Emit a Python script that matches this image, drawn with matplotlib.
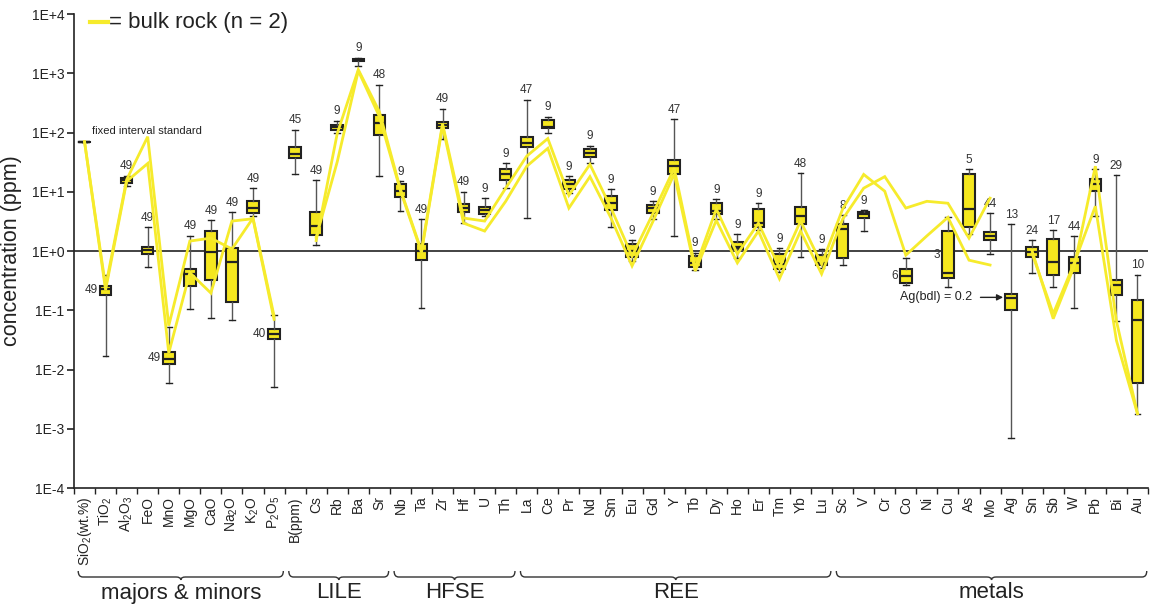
import numpy as np
import matplotlib
matplotlib.use("Agg")
import matplotlib.pyplot as plt
import matplotlib.transforms as mtransforms
from matplotlib.path import Path
from matplotlib.patches import PathPatch
from matplotlib.ticker import FuncFormatter, FixedLocator

plt.rcParams['font.family'] = ['Liberation Sans', 'DejaVu Sans']
plt.rcParams['mathtext.fontset'] = 'custom'
plt.rcParams['mathtext.rm'] = 'Liberation Sans'
plt.rcParams['mathtext.it'] = 'Liberation Sans:italic'
plt.rcParams['mathtext.bf'] = 'Liberation Sans:bold'
plt.rcParams['mathtext.default'] = 'regular'

# ---------------------------------------------------------------- data
elements = ['SiO$_2$(wt.%)', 'TiO$_2$', 'Al$_2$O$_3$', 'FeO', 'MnO', 'MgO', 'CaO',
            'Na$_2$O', 'K$_2$O', 'P$_2$O$_5$',
            'B(ppm)', 'Cs', 'Rb', 'Ba', 'Sr',
            'Nb', 'Ta', 'Zr', 'Hf', 'U', 'Th',
            'La', 'Ce', 'Pr', 'Nd', 'Sm', 'Eu', 'Gd', 'Y', 'Tb', 'Dy', 'Ho', 'Er',
            'Tm', 'Yb', 'Lu',
            'Sc', 'V', 'Cr', 'Co', 'Ni', 'Cu', 'As', 'Mo', 'Ag', 'Sn', 'Sb', 'W',
            'Pb', 'Bi', 'Au']

nan = np.nan
# box statistics (ppm; majors in wt.%), nan = no analyses
q1 = [nan, 0.18, 13.9, 0.89, 0.0126, 0.26, 0.33, 0.139, 4.35, 0.033,
      36.5, 1.86, 112, 1590, 89,
      8.1, 0.71, 117, 4.5, 4.2, 15.6,
      56, 117, 11, 38, 4.9, 0.79, 4.35, 19.6, 0.54, 4.2, 1.08, 2.5, 0.50, 2.84, 0.58,
      0.76, 3.6, nan, 0.29, nan, 0.35, 2.5, 1.53, 0.10, 0.79, 0.40, 0.43, 10.2, 0.18, 0.006]
median = [nan, 0.23, 15.6, 1.03, 0.0153, 0.41, 0.96, 0.65, 5.3, 0.040,
          44, 2.63, 126, 1690, 142,
          10.2, 1.0, 136, 5.3, 4.9, 19.7,
          66, 126, 13.4, 44.5, 6.4, 1.0, 5.3, 27, 0.63, 4.7, 1.17, 2.95, 0.60, 3.9, 0.63,
          2.34, 4.2, nan, 0.38, nan, 0.43, 5.1, 1.79, 0.16, 0.96, 0.65, 0.63, 13.4, 0.27, 0.069]
q3 = [nan, 0.26, 17, 1.17, 0.020, 0.50, 2.17, 1.12, 6.9, 0.049,
      58, 4.5, 135, 1740, 200,
      13.4, 1.31, 152, 6.2, 5.5, 24,
      83, 160, 15.6, 52, 8.4, 1.31, 5.9, 35, 0.82, 6.4, 1.42, 5.1, 0.89, 5.5, 0.86,
      2.84, 4.5, nan, 0.50, nan, 2.17, 19.6, 2.1, 0.19, 1.17, 1.59, 0.79, 16.2, 0.33, 0.15]
whisker_low = [nan, 0.017, 12.5, 0.54, 0.006, 0.106, 0.075, 0.069, 3.9, 0.005,
               19.6, 1.26, 100, 1340, 18.2,
               4.7, 0.11, 79, 2.95, 3.9, 11.5,
               3.6, 100, 9.4, 31, 2.5, 0.68, 3.45, 1.8, 0.48, 3.45, 0.76, 2.3, 0.44, 0.79, 0.52,
               0.58, 2.17, nan, 0.27, nan, 0.25, 1.93, 0.89, 0.0007, 0.43, 0.25, 0.11, 3.9, 0.066, 0.0018]
whisker_high = [nan, 0.40, 18.5, 2.5, 0.053, 1.8, 3.3, 4.5, 11.5, 0.084,
                112, 15.6, 159, 1820, 640,
                15, 3.45, 253, 10, 7.8, 30,
                357, 186, 18.2, 60, 11, 1.53, 6.9, 166, 0.93, 7.5, 1.93, 6.4, 1.12, 20.4, 1.08,
                4.0, 4.9, nan, 0.76, nan, 3.7, 24, 4.35, 2.84, 1.53, 2.25, 1.79, 24, 19, 0.40]
n_samples = [None, 49, 49, 49, 49, 49, 49, 49, 49, 40,
             45, 49, 9, 9, 48,
             9, 49, 49, 49, 9, 9,
             47, 9, 9, 9, 9, 9, 9, 47, 9, 9, 9, 9, 9, 48, 9,
             8, 9, None, 6, None, 3, 5, 44, 13, 24, 17, 44, 9, 29, 10]

# SiO2 is fixed as the internal standard
sio2_standard = 70.0

# two bulk-rock analyses
bulk_rock_1 = [70, 0.25, 16, 85, 0.055, 1.47, 1.65, 1.08, 3.6, 0.08,
               nan, 1.5, 96, 1150, 225,
               11, 1.0, 141, 3.6, 3.2, 11.5,
               40, 79, 8.7, 29, 5.3, 0.82, 4.35, 25, 0.52, 5.1, 0.89, 2.95, 0.52, 3.2, 0.60,
               5.1, 19.6, 10.2, 0.85, 1.8, 3.7, 0.7, 0.58, nan, 1.0, 0.072, 0.56, 27, 0.066, 0.0018]
bulk_rock_2 = [70, 0.22, 15, 30, 0.019, 0.43, 0.195, 3.2, 3.5, 0.07,
               nan, 1.7, 32, 1100, 186,
               10.5, 0.95, 130, 2.95, 2.17, 6.9,
               27, 54, 5.3, 18, 3.6, 0.56, 3.2, 20, 0.46, 3.3, 0.63, 2.17, 0.34, 2.17, 0.41,
               3.45, 11.5, 18, 5.3, 6.9, 6.4, 1.65, 7.8, nan, 0.9, 0.087, 0.63, 5.7, 0.031, 0.0018]

groups = ['majors & minors', 'LILE', 'HFSE', 'REE', 'metals']
group_ranges = [(0, 9), (10, 14), (15, 20), (21, 35), (36, 50)]

# count labels drawn beside the box instead of above it
side_labels = {'TiO$_2$', 'MnO', 'P$_2$O$_5$', 'Co', 'Cu'}

# ---------------------------------------------------------------- style
BOX_YELLOW = '#F5E71E'
LINE_YELLOW = '#F6EB2C'
DARK = '#222222'
W, H = 1150, 608

fig = plt.figure(figsize=(W / 100, H / 100), dpi=100)
ax = fig.add_axes([74 / W, 1 - 488 / H, (1148 - 74) / W, (488 - 14) / H])
ax.set_yscale('log')
ax.set_ylim(1e-4, 1e4)
ax.set_xlim(-0.45, len(elements) - 0.5)

x = np.arange(len(elements))

# reference line at 1 ppm
ax.axhline(1.0, color=DARK, lw=1.2, zorder=1)

# boxes
stats, pos = [], []
for i in range(len(elements)):
    if np.isnan(median[i]):
        continue
    stats.append(dict(med=median[i], q1=q1[i], q3=q3[i],
                      whislo=whisker_low[i], whishi=whisker_high[i], fliers=[]))
    pos.append(x[i])
ax.bxp(stats, positions=pos, widths=0.55, patch_artist=True, showfliers=False,
       boxprops=dict(facecolor=BOX_YELLOW, edgecolor=DARK, linewidth=1.5),
       medianprops=dict(color=DARK, linewidth=1.6),
       whiskerprops=dict(color='#555555', linewidth=1.0),
       capprops=dict(color=DARK, linewidth=1.0),
       manage_ticks=False, zorder=3)

# fixed SiO2 standard
ax.bxp([dict(med=sio2_standard, q1=sio2_standard, q3=sio2_standard,
             whislo=sio2_standard, whishi=sio2_standard, fliers=[])],
       positions=[x[0]], widths=0.55, showfliers=False, manage_ticks=False,
       boxprops=dict(color=DARK, linewidth=1.6),
       medianprops=dict(color=DARK, linewidth=1.6),
       whiskerprops=dict(color=DARK), capprops=dict(color=DARK), zorder=3)
ax.text(0.36, 108, 'fixed interval standard', fontsize=8, color=DARK,
        ha='left', va='center')

# sample counts
for i, n in enumerate(n_samples):
    if n is None:
        continue
    if elements[i] in side_labels:
        ax.annotate(str(n), (x[i] - 0.32, np.sqrt(q1[i] * q3[i])),
                    xytext=(-1, 0), textcoords='offset points',
                    ha='right', va='center', fontsize=8.5, color='#333333')
    else:
        ax.annotate(str(n), (x[i], whisker_high[i]),
                    xytext=(0, 2.5), textcoords='offset points',
                    ha='center', va='bottom', fontsize=8.5, color='#333333')

# bulk rock
ax.plot(x, bulk_rock_1, color=LINE_YELLOW, lw=2.0, zorder=4, solid_joinstyle='miter')
ax.plot(x, bulk_rock_2, color=LINE_YELLOW, lw=2.0, zorder=4, solid_joinstyle='miter')

# Ag below detection limit note
ax.annotate('Ag(bdl) = 0.2', xy=(43.62, 0.165), xytext=(42.15, 0.165),
            ha='right', va='center', fontsize=9, color=DARK,
            arrowprops=dict(arrowstyle='-|>', color=DARK, lw=1.0,
                            shrinkA=4, shrinkB=0, mutation_scale=9))

# legend
ax.plot([0.25, 1.1], [7300, 7300], color=LINE_YELLOW, lw=3, clip_on=False)
ax.text(1.15, 7300, '= bulk rock (n = 2)', fontsize=16, color=DARK,
        ha='left', va='center')

# axes
for s in ['top', 'right']:
    ax.spines[s].set_visible(False)
for s in ['left', 'bottom']:
    ax.spines[s].set_color(DARK)
    ax.spines[s].set_linewidth(1.2)

ax.yaxis.set_major_locator(FixedLocator(10.0 ** np.arange(-4, 5)))
ax.yaxis.set_minor_locator(FixedLocator([]))
ax.yaxis.set_major_formatter(FuncFormatter(lambda v, p: '1E%+d' % int(round(np.log10(v)))))
ax.tick_params(axis='y', which='major', length=5, width=1.2, labelsize=10,
               colors=DARK, pad=2)

ax.set_xticks(x)
ax.set_xticklabels(elements, rotation=90, fontsize=10, color=DARK)
ax.set_xticks(np.arange(-0.5, len(elements)), minor=True)
ax.tick_params(axis='x', which='major', length=0, pad=6)
ax.tick_params(axis='x', which='minor', length=4, width=1.0, color=DARK)

ax.set_ylabel('concentration (ppm)', fontsize=15.5, color=DARK)
ax.yaxis.set_label_coords(-(74 - 22) / (1148 - 74), 0.5)

# group braces
btrans = mtransforms.blended_transform_factory(ax.transData, fig.transFigure)


def brace(x0, x1, ypx):
    y = 1 - ypx / H
    h = 6 / H
    d = 0.22
    xm = 0.5 * (x0 + x1)
    verts = [(x0, y + h), (x0, y), (x0 + d, y),
             (xm - d, y), (xm, y), (xm, y - 0.5 * h), (xm, y), (xm + d, y),
             (x1 - d, y), (x1, y), (x1, y + h)]
    codes = [Path.MOVETO, Path.CURVE3, Path.CURVE3,
             Path.LINETO, Path.CURVE3, Path.CURVE3, Path.CURVE3, Path.CURVE3,
             Path.LINETO, Path.CURVE3, Path.CURVE3]
    p = PathPatch(Path(verts, codes), transform=btrans, fill=False,
                  edgecolor='#333333', lw=1.0, clip_on=False)
    ax.add_patch(p)


for name, (a, b) in zip(groups, group_ranges):
    x0, x1 = a - 0.3, b + 0.44
    brace(x0, x1, 577)
    ax.text(0.5 * (x0 + x1), 1 - 593 / H, name, transform=btrans,
            ha='center', va='center', fontsize=16, color=DARK)

fig.savefig('out.png', dpi=100)
